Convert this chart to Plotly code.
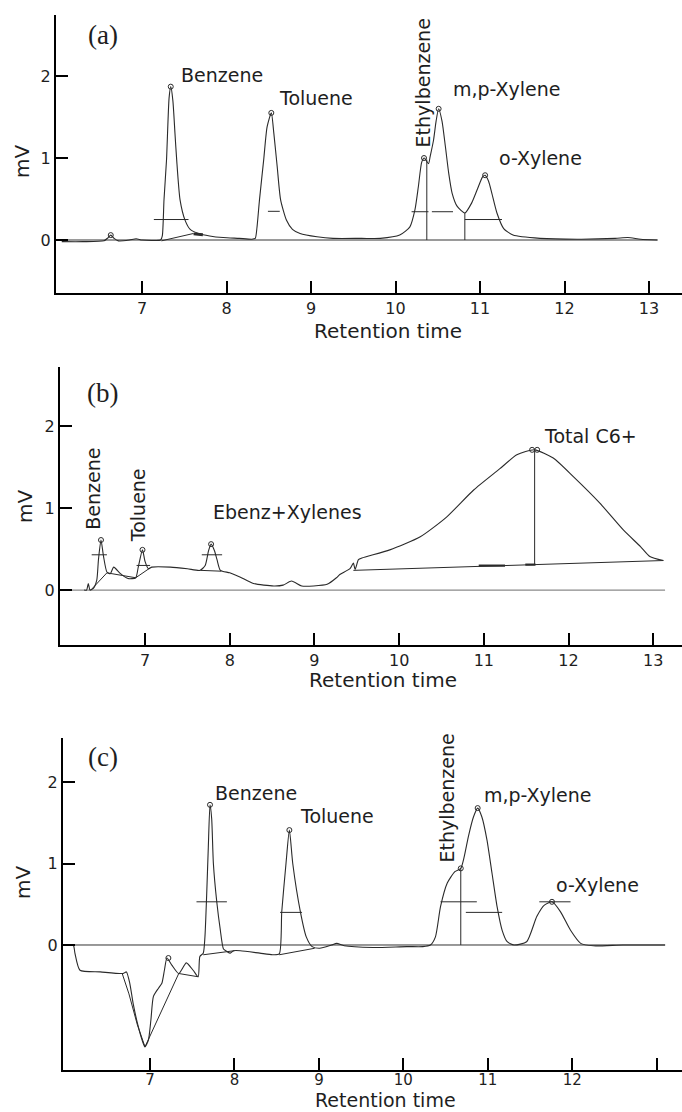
import plotly.graph_objects as go

# ---------------- data ----------------
# Panel (a)
a_t = [6.05, 6.3, 6.55, 6.6, 6.63, 6.67, 6.72, 6.85, 6.93, 7.0, 7.15, 7.22, 7.24, 7.26, 7.29, 7.32, 7.34,
       7.365, 7.39, 7.41, 7.45, 7.51, 7.57, 7.67, 7.8, 7.96, 8.15, 8.3, 8.34, 8.36, 8.39, 8.44, 8.48, 8.53,
       8.56, 8.60, 8.64, 8.71, 8.78, 8.87, 9.07, 9.26, 9.6, 9.82, 10.05, 10.17, 10.23, 10.27, 10.31, 10.34,
       10.39, 10.41, 10.45, 10.48, 10.51, 10.55, 10.59, 10.63, 10.67, 10.73, 10.82, 10.90, 10.98, 11.03,
       11.06, 11.10, 11.14, 11.20, 11.28, 11.39, 11.71, 12.2, 12.6, 12.75, 12.9, 13.1]
a_mv = [-0.02, -0.02, -0.01, 0.03, 0.06, 0.02, -0.01, 0.0, 0.015, 0.0, -0.005, 0.0, 0.05, 0.49, 0.98, 1.73, 1.87,
        1.7, 1.3, 0.98, 0.49, 0.24, 0.13, 0.08, 0.05, 0.03, 0.02, 0.01, 0.02, 0.15, 0.49, 0.98, 1.38, 1.55,
        1.3, 0.89, 0.49, 0.24, 0.13, 0.08, 0.04, 0.02, 0.02, 0.02, 0.06, 0.16, 0.37, 0.65, 0.95, 1.0,
        0.93, 1.02, 1.22, 1.45, 1.60, 1.45, 1.14, 0.81, 0.57, 0.41, 0.33, 0.45, 0.65, 0.77,
        0.79, 0.72, 0.57, 0.33, 0.14, 0.06, 0.02, 0.01, 0.02, 0.03, 0.01, 0.0]
a_peak_t = [6.63, 7.34, 8.53, 10.337, 10.51, 11.06]
a_peak_mv = [0.06, 1.87, 1.55, 1.0, 1.60, 0.79]
a_half = [(7.14, 7.55, 0.25), (8.49, 8.63, 0.35), (10.19, 10.39, 0.345), (10.43, 10.68, 0.345), (10.82, 11.26, 0.25)]
a_drop = [(10.37, 0.98, 0.0), (10.82, 0.33, 0.0)]
a_base_t = [7.23, 7.61]
a_base_mv = [-0.01, 0.08]
a_zero = (6.0, 13.1)
a_labels = ["Benzene", "Toluene", "Ethylbenzene", "m,p-Xylene", "o-Xylene"]
a_label_t = [7.95, 9.06, 10.325, 11.31, 11.71]
a_label_mv = [2.01, 1.73, 1.91, 1.84, 1.0]
a_label_rot = [0, 0, -90, 0, 0]

# Panel (b)
b_t = [6.28, 6.31, 6.33, 6.35, 6.39, 6.43, 6.45, 6.48, 6.51, 6.55, 6.59, 6.63, 6.71, 6.80, 6.89, 6.92, 6.97,
       7.00, 7.04, 7.08, 7.30, 7.50, 7.65, 7.71, 7.75, 7.78, 7.82, 7.85, 7.89, 8.00, 8.12, 8.28, 8.52, 8.63,
       8.73, 8.85, 8.99, 9.15, 9.26, 9.30, 9.42, 9.46, 9.48, 9.52, 9.56, 9.89, 10.25, 10.56, 10.88, 11.19,
       11.39, 11.60, 11.82, 12.06, 12.37, 12.65, 12.85, 12.96, 13.12]
b_mv = [0.0, 0.0, 0.08, 0.0, 0.02, 0.12, 0.37, 0.61, 0.41, 0.22, 0.20, 0.28, 0.20, 0.14, 0.15, 0.28, 0.49,
        0.35, 0.26, 0.28, 0.28, 0.26, 0.24, 0.30, 0.48, 0.56, 0.48, 0.37, 0.24, 0.21, 0.16, 0.08, 0.05, 0.06,
        0.11, 0.05, 0.05, 0.07, 0.15, 0.19, 0.26, 0.33, 0.25, 0.37, 0.39, 0.49, 0.65, 0.89, 1.22, 1.48,
        1.65, 1.71, 1.61, 1.38, 1.06, 0.73, 0.53, 0.41, 0.36]
b_peak_t = [6.48, 6.97, 7.78, 11.57, 11.63]
b_peak_mv = [0.61, 0.49, 0.56, 1.71, 1.71]
b_half = [(6.37, 6.55, 0.43), (6.90, 7.06, 0.30), (7.67, 7.91, 0.43)]
b_thick = [(10.94, 11.25, 0.298), (11.49, 11.61, 0.31)]
b_drop = [(11.60, 1.71, 0.31)]
b_base_segments = [([6.36, 6.55, 6.89, 7.06], [0.0, 0.21, 0.15, 0.27]),
                   ([7.66, 7.90], [0.24, 0.23]),
                   ([9.46, 13.12], [0.24, 0.36])]
b_zero = (6.0, 13.14)
b_labels = ["Benzene", "Toluene", "Ebenz+Xylenes", "Total C6+"]
b_label_t = [6.39, 6.91, 8.68, 12.26]
b_label_mv = [1.24, 1.04, 0.95, 1.88]
b_label_rot = [-90, -90, 0, 0]

# Panel (c)
c_t = [5.97, 6.09, 6.11, 6.17, 6.41, 6.68, 6.72, 6.76, 6.80, 6.86, 6.91, 6.94, 6.98, 7.01, 7.04, 7.10, 7.14,
       7.17, 7.20, 7.26, 7.34, 7.43, 7.51, 7.57, 7.59, 7.63, 7.65, 7.67, 7.69, 7.71, 7.73, 7.75, 7.79, 7.83,
       7.87, 7.91, 7.95, 7.99, 8.07, 8.30, 8.45, 8.53, 8.56, 8.61, 8.65, 8.69, 8.78, 8.85, 8.92, 9.01, 9.15,
       9.21, 9.3, 9.64, 10.04, 10.23, 10.32, 10.38, 10.44, 10.52, 10.61, 10.68, 10.72, 10.77, 10.83, 10.88,
       10.93, 10.99, 11.05, 11.11, 11.17, 11.23, 11.31, 11.46, 11.58, 11.67, 11.76, 11.86, 11.98, 12.10,
       12.25, 12.6, 13.1]
c_mv = [0.0, 0.0, -0.10, -0.31, -0.33, -0.35, -0.33, -0.47, -0.72, -1.00, -1.18, -1.25, -1.17, -0.92, -0.63,
        -0.53, -0.47, -0.31, -0.16, -0.25, -0.35, -0.22, -0.31, -0.39, -0.14, -0.10, 0.1, 0.6, 1.2, 1.72, 1.55,
        1.0, 0.53, 0.2, -0.05, -0.08, -0.10, -0.07, -0.07, -0.10, -0.12, -0.11, 0.41, 1.0, 1.41, 1.0, 0.41,
        0.1, -0.02, -0.04, 0.0, 0.02, -0.01, -0.03, -0.02, -0.02, 0.0, 0.10, 0.47, 0.76, 0.90, 0.94, 1.08,
        1.33, 1.57, 1.68, 1.57, 1.29, 0.88, 0.47, 0.18, 0.04, 0.0, 0.04, 0.35, 0.49, 0.53, 0.41, 0.18, 0.02,
        -0.01, 0.0, 0.0]
c_peak_t = [7.217, 7.71, 8.65, 10.68, 10.88, 11.76]
c_peak_mv = [-0.16, 1.72, 1.41, 0.94, 1.68, 0.53]
c_half = [(7.55, 7.91, 0.53), (8.54, 8.80, 0.40), (10.44, 10.87, 0.53), (10.74, 11.17, 0.40), (11.61, 11.98, 0.53)]
c_drop = [(10.68, 0.94, 0.0)]
c_base_segments = [([6.67, 6.75, 6.85, 6.94], [-0.35, -0.60, -0.98, -1.25]),
                   ([6.94, 7.34, 7.57], [-1.25, -0.35, -0.39]),
                   ([7.63, 8.0], [-0.12, -0.07]),
                   ([8.53, 8.95], [-0.12, -0.04])]
c_zero = (5.97, 13.1)
c_dots_t = [6.08, 7.15, 8.17, 9.24, 10.32, 11.37, 12.43]
c_labels = ["Benzene", "Toluene", "Ethylbenzene", "m,p-Xylene", "o-Xylene"]
c_label_t = [8.256, 9.216, 10.52, 11.585, 12.30]
c_label_mv = [1.87, 1.58, 1.80, 1.84, 0.74]
c_label_rot = [0, 0, -90, 0, 0]

x_ticks = [7, 8, 9, 10, 11, 12, 13]
x_ticktext_ab = ["7", "8", "9", "10", "11", "12", "13"]
x_ticktext_c = ["7", "8", "9", "10", "11", "12", ""]
y_ticks = [0, 1, 2]
panel_tags = ["(a)", "(b)", "(c)"]
panel_tag_t = [6.54, 6.50, 6.44]
panel_tag_mv = [2.50, 2.40, 2.31]

# ---------------- figure ----------------
W, H = 682, 1112
LINE = "#2a2a2a"
TXT = "#1e1e1e"
fig = go.Figure()


def seg(xs, ys, ax, color=LINE, width=1.0, shape="linear"):
    line = dict(color=color, width=width, shape=shape)
    if shape == "spline":
        line["smoothing"] = 0.6
    fig.add_trace(go.Scatter(x=xs, y=ys, mode="lines", xaxis=ax[0], yaxis=ax[1],
                             line=line, hoverinfo="skip"))


def panel(ax, t, mv, peak_t, peak_mv, half, drops, zero, zero_color, zero_width):
    seg([zero[0], zero[1]], [0, 0], ax, zero_color, zero_width)
    seg(t, mv, ax, LINE, 1.1, "spline")
    for (t0, t1, y) in half:
        seg([t0, t1], [y, y], ax, LINE, 1.0)
    for (tt, y0, y1) in drops:
        seg([tt, tt], [y0, y1], ax, LINE, 1.0)
    fig.add_trace(go.Scatter(x=peak_t, y=peak_mv, mode="markers", xaxis=ax[0], yaxis=ax[1],
                             marker=dict(symbol="circle-open", size=5, color=LINE, line=dict(width=1)),
                             hoverinfo="skip"))


A = ("x", "y")
B = ("x2", "y2")
C = ("x3", "y3")

panel(A, a_t, a_mv, a_peak_t, a_peak_mv, a_half, a_drop, a_zero, "#9a9a9a", 2.2)
seg(a_base_t, a_base_mv, A, LINE, 1.0)
seg([7.61, 7.72], [0.075, 0.065], A, LINE, 3.0)

panel(B, b_t, b_mv, b_peak_t, b_peak_mv, b_half, b_drop, b_zero, "#8a8a8a", 1.2)
for xs, ys in b_base_segments:
    seg(xs, ys, B, LINE, 1.0)
for (t0, t1, y) in b_thick:
    seg([t0, t1], [y, y], B, LINE, 2.2)

panel(C, c_t, c_mv, c_peak_t, c_peak_mv, c_half, c_drop, c_zero, "#333333", 1.0)
for xs, ys in c_base_segments:
    seg(xs, ys, C, LINE, 1.0)
fig.add_trace(go.Scatter(x=c_dots_t, y=[-1.72] * len(c_dots_t), mode="markers", xaxis="x3", yaxis="y3",
                         marker=dict(size=2.5, color="#9a9a9a"), cliponaxis=False, hoverinfo="skip"))


def px_x(p):
    return p / W


def px_y(p):
    return 1 - p / H


axis_common = dict(showline=True, linecolor="black", linewidth=2, ticks="inside", ticklen=12,
                   tickwidth=2, tickcolor="black", showgrid=False, zeroline=False,
                   tickfont=dict(family="DejaVu Sans", size=16, color=TXT))

fig.update_layout(
    width=W, height=H, margin=dict(l=0, r=0, t=0, b=0),
    paper_bgcolor="white", plot_bgcolor="white", showlegend=False,
    xaxis=dict(domain=[px_x(56), 1], range=[5.982, 13.39], anchor="y",
               tickvals=x_ticks, ticktext=x_ticktext_ab, **axis_common),
    yaxis=dict(domain=[px_y(293), px_y(15)], range=[-0.646, 2.744], anchor="x",
               tickvals=y_ticks, **axis_common),
    xaxis2=dict(domain=[px_x(60), 1], range=[5.996, 13.34], anchor="y2",
                tickvals=x_ticks, ticktext=x_ticktext_ab, **axis_common),
    yaxis2=dict(domain=[px_y(645), px_y(367)], range=[-0.67, 2.72], anchor="x2",
                tickvals=y_ticks, **axis_common),
    xaxis3=dict(domain=[px_x(63), 1], range=[5.969, 13.30], anchor="y3",
                tickvals=x_ticks, ticktext=x_ticktext_c, **axis_common),
    yaxis3=dict(domain=[px_y(1070), px_y(738)], range=[-1.534, 2.54], anchor="x3",
                tickvals=y_ticks, **axis_common),
)
fig.update_xaxes(selector=dict(anchor="y3"), ticklabelstandoff=-5,
                 tickfont=dict(family="DejaVu Sans", size=15, color=TXT))

ann = []
lab_font = dict(family="DejaVu Sans", size=19, color=TXT)
for ax, labels, lt, lm, rot in [(A, a_labels, a_label_t, a_label_mv, a_label_rot),
                                (B, b_labels, b_label_t, b_label_mv, b_label_rot),
                                (C, c_labels, c_label_t, c_label_mv, c_label_rot)]:
    for s, tt, mm, r in zip(labels, lt, lm, rot):
        ann.append(dict(text=s, x=tt, y=mm, xref=ax[0], yref=ax[1], showarrow=False,
                        textangle=r, xanchor="center", yanchor="middle", font=lab_font))

for ax, tag, tt, mm in zip([A, B, C], panel_tags, panel_tag_t, panel_tag_mv):
    ann.append(dict(text=tag, x=tt, y=mm, xref=ax[0], yref=ax[1], showarrow=False,
                    xanchor="center", yanchor="middle",
                    font=dict(family="Liberation Serif", size=27, color=TXT)))

for (mx, my) in [(22, 162), (25, 507), (23, 883)]:
    ann.append(dict(text="mV", x=px_x(mx), y=px_y(my), xref="paper", yref="paper", showarrow=False,
                    textangle=-90, xanchor="center", yanchor="middle",
                    font=dict(family="DejaVu Sans", size=20, color=TXT)))
for (rx, ry) in [(388, 331), (383, 680)]:
    ann.append(dict(text="Retention time", x=px_x(rx), y=px_y(ry), xref="paper", yref="paper",
                    showarrow=False, xanchor="center", yanchor="middle", borderpad=0,
                    font=dict(family="DejaVu Sans", size=20, color=TXT)))
ann.append(dict(text="Retention time", x=px_x(385), y=0, xref="paper", yref="paper",
                showarrow=False, xanchor="center", yanchor="bottom", borderpad=0,
                font=dict(family="DejaVu Sans", size=19, color=TXT)))

fig.update_layout(annotations=ann)
fig.write_html("out.html")
